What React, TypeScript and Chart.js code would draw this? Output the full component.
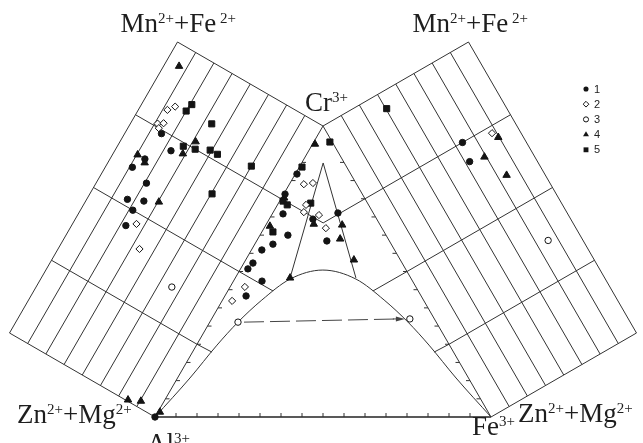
import React, { useEffect, useRef } from 'react';
import { Chart, registerables } from 'chart.js';

Chart.register(...registerables);

type Pair = [number, number];

// ---------------- data ----------------
// Left prism face:   [Cr/(Cr+Al), (Mn+Fe2+)/(Mn+Fe2++Zn+Mg)]
// Triangle:          [Cr, Fe3+] (fractions of Cr+Al+Fe3+)
// Right prism face:  [Cr/(Cr+Fe3+), (Mn+Fe2+)/(Mn+Fe2++Zn+Mg)]
const seriesNames = ['1', '2', '3', '4', '5'];

const s1Left: Pair[] = [[0.74, 0.81], [0.71, 0.71], [0.65, 0.82], [0.61, 0.86], [0.59, 0.74], [0.52, 0.79], [0.54, 0.70], [0.50, 0.73], [0.45, 0.72]];
const s1Tri: Pair[] = [[0.835, 0.005], [0.766, 0.004], [0.698, 0.032], [0.701, 0.194], [0.68, 0.13], [0.625, 0.083], [0.605, 0.209], [0.594, 0.054], [0.574, 0.031], [0.529, 0.027], [0.509, 0.022], [0.467, 0.085], [0.416, 0.063], [0.0, 0.0]];
const s1Right: Pair[] = [[0.75, 0.67], [0.69, 0.65]];

const s2Left: Pair[] = [[0.81, 0.85], [0.83, 0.82], [0.76, 0.86], [0.77, 0.83], [0.75, 0.84], [0.47, 0.67], [0.41, 0.58]];
const s2Tri: Pair[] = [[0.80, 0.043], [0.804, 0.068], [0.729, 0.085], [0.704, 0.091], [0.694, 0.141], [0.649, 0.184], [0.447, 0.044], [0.399, 0.030]];
const s2Right: Pair[] = [[0.73, 0.85]];

const s3Left: Pair[] = [[0.36, 0.30]];
const s3Tri: Pair[] = [[0.326, 0.084], [0.337, 0.590]];
const s3Right: Pair[] = [[0.37, 0.82]];

const s4Left: Pair[] = [[0.94, 0.92], [0.77, 0.61], [0.72, 0.64], [0.65, 0.87], [0.64, 0.81], [0.56, 0.62], [0.004, 0.19], [0.02, 0.12]];
const s4Tri: Pair[] = [[0.017, 0.006], [0.938, 0.007], [0.753, 0.008], [0.656, 0.014], [0.663, 0.141], [0.66, 0.227], [0.612, 0.245], [0.54, 0.322], [0.478, 0.163]];
const s4Right: Pair[] = [[0.71, 0.87], [0.68, 0.74], [0.60, 0.80]];

const s5Left: Pair[] = [[0.86, 0.74], [0.835, 0.75], [0.84, 0.58], [0.74, 0.66], [0.75, 0.59], [0.77, 0.51], [0.77, 0.46], [0.79, 0.25], [0.66, 0.37]];
const s5Tri: Pair[] = [[0.945, 0.048], [0.859, 0.008], [0.742, 0.010], [0.729, 0.029], [0.735, 0.096], [0.636, 0.033]];
const s5Right: Pair[] = [[0.95, 0.38]];

// solvus curve [Cr, Fe3+]
const solvusCr = [0, 0.134, 0.247, 0.326, 0.402, 0.474, 0.505, 0.474, 0.402, 0.326, 0.247, 0.134, 0];
const solvusFe3 = [0, 0.037, 0.061, 0.084, 0.117, 0.165, 0.247, 0.361, 0.481, 0.590, 0.692, 0.829, 1];

// interior guide lines [Cr, Fe3+]
const crossCr = [0.25, 0.5, 0.75];
const crossEndLeft: Pair[] = [[0.223, 0.058], [0.433, 0.135], [0.667, 0.167]];
const crossEndRight: Pair[] = [[0.223, 0.719], [0.433, 0.432], [0.667, 0.167]];
const innerApex: Pair = [0.873, 0.064];
const innerBase: Pair[] = [[0.478, 0.163], [0.478, 0.359]];

const faceLong = 8; // divisions across the face
const faceCross = 4; // divisions along the face
const edgeTicks = 16;

// ---------------- geometry ----------------
const H = Math.sqrt(3) / 2;
const FACE = 0.5;
type P = { x: number | null; y: number | null };
const toTri = ([cr, fe3]: Pair): P => ({ x: fe3 + 0.5 * cr, y: H * cr });
const toLeft = ([cr, f]: Pair): P => ({ x: 0.5 * cr - H * FACE * f, y: H * cr + 0.5 * FACE * f });
const toRight = ([cr, f]: Pair): P => ({ x: 1 - 0.5 * cr + H * FACE * f, y: H * cr + 0.5 * FACE * f });
const GAP: P = { x: null, y: null };

function joinSegs(list: P[][]): P[] {
  const out: P[] = [];
  list.forEach((s, i) => {
    if (i) out.push(GAP);
    out.push(...s);
  });
  return out;
}

function buildGrid(): P[] {
  const segs: P[][] = [];
  for (const face of [toLeft, toRight]) {
    for (let k = 1; k <= faceLong; k++) segs.push([face([0, k / faceLong]), face([1, k / faceLong])]);
    for (let j = 0; j <= faceCross; j++) segs.push([face([j / faceCross, 0]), face([j / faceCross, 1])]);
  }
  segs.push([toTri([0, 0]), toTri([1, 0]), toTri([0, 1])]);
  crossCr.forEach((c, i) => {
    segs.push([toTri([c, 0]), toTri(crossEndLeft[i])]);
    segs.push([toTri([c, 1 - c]), toTri(crossEndRight[i])]);
  });
  segs.push([toTri(innerBase[0]), toTri(innerApex), toTri(innerBase[1])]);
  return joinSegs(segs);
}

const styles = ['circle', 'rectRot', 'circle', 'triangle', 'rect'];
const filled = [true, false, false, true, true];
const radii = [3.2, 3.6, 3.2, 4.3, 4.3];
const INK = '#141414';
const LINE = '#333333';

function drawMarker(ctx: CanvasRenderingContext2D, style: string, x: number, y: number, r: number, fill: boolean) {
  ctx.beginPath();
  if (style === 'circle') ctx.arc(x, y, r, 0, Math.PI * 2);
  else if (style === 'rect') {
    const s = r * Math.SQRT1_2;
    ctx.rect(x - s, y - s, 2 * s, 2 * s);
  } else if (style === 'rectRot') {
    ctx.moveTo(x, y - r); ctx.lineTo(x + r, y); ctx.lineTo(x, y + r); ctx.lineTo(x - r, y); ctx.closePath();
  } else {
    ctx.moveTo(x, y - r); ctx.lineTo(x + 0.866 * r, y + 0.5 * r); ctx.lineTo(x - 0.866 * r, y + 0.5 * r); ctx.closePath();
  }
  ctx.lineWidth = 1;
  if (fill) { ctx.fillStyle = INK; ctx.fill(); }
  else { ctx.fillStyle = '#fff'; ctx.fill(); ctx.strokeStyle = INK; ctx.stroke(); }
}

function rich(ctx: CanvasRenderingContext2D, x: number, y: number, parts: [string, boolean][]) {
  let cx = x;
  ctx.fillStyle = '#1e1e1e';
  ctx.textAlign = 'left';
  ctx.textBaseline = 'alphabetic';
  for (const [t, sup] of parts) {
    ctx.font = sup ? '15px "Liberation Serif"' : '27px "Liberation Serif"';
    ctx.fillText(t, cx, sup ? y - 9 : y);
    cx += ctx.measureText(t).width;
  }
}

const decor = {
  id: 'decor',
  beforeDatasetsDraw(chart: any) {
    const ctx: CanvasRenderingContext2D = chart.ctx;
    const X = (p: P) => chart.scales.x.getPixelForValue(p.x);
    const Y = (p: P) => chart.scales.y.getPixelForValue(p.y);
    ctx.save();
    // base line Al - Fe3+
    const al = toTri([0, 0]);
    const fe = toTri([0, 1]);
    ctx.strokeStyle = '#222';
    ctx.lineWidth = 1.3;
    ctx.beginPath(); ctx.moveTo(X(al), Y(al)); ctx.lineTo(X(fe), Y(fe)); ctx.stroke();
    ctx.strokeStyle = LINE;
    ctx.lineWidth = 1;
    ctx.beginPath();
    for (let k = 1; k < edgeTicks; k++) {
      const f = k / edgeTicks;
      const b = toTri([0, f]);
      ctx.moveTo(X(b), Y(b)); ctx.lineTo(X(b), Y(b) - 4);
      const l = toTri([f, 0]);
      ctx.moveTo(X(l), Y(l)); ctx.lineTo(X(l) + 4, Y(l));
      const r = toTri([f, 1 - f]);
      ctx.moveTo(X(r), Y(r)); ctx.lineTo(X(r) - 4, Y(r));
    }
    ctx.stroke();
    // dashed arrow between the two solvus points
    const a = toTri(s3Tri[0]);
    const b = toTri(s3Tri[1]);
    const ax = X(a) + 6, ay = Y(a), bx = X(b) - 5, by = Y(b);
    ctx.strokeStyle = '#444';
    ctx.setLineDash([20, 6]);
    ctx.beginPath(); ctx.moveTo(ax, ay); ctx.lineTo(bx - 6, by); ctx.stroke();
    ctx.setLineDash([]);
    ctx.beginPath(); ctx.moveTo(bx - 12, by); ctx.lineTo(bx - 4, by); ctx.stroke();
    ctx.fillStyle = '#444';
    ctx.beginPath(); ctx.moveTo(bx, by); ctx.lineTo(bx - 9, by - 2.5); ctx.lineTo(bx - 9, by + 2.5); ctx.closePath(); ctx.fill();
    ctx.restore();
  },
  afterDraw(chart: any) {
    const ctx: CanvasRenderingContext2D = chart.ctx;
    const X = (p: P) => chart.scales.x.getPixelForValue(p.x);
    const Y = (p: P) => chart.scales.y.getPixelForValue(p.y);
    ctx.save();
    const mnfe: [string, boolean][] = [['Mn', false], ['2+', true], ['+Fe', false], [' 2+', true]];
    const znmg: [string, boolean][] = [['Zn', false], ['2+', true], ['+Mg', false], ['2+', true]];
    const tl = toLeft([1, 1]);
    const tr = toRight([1, 1]);
    const al = toTri([0, 0]);
    const fe = toTri([0, 1]);
    const cr = toTri([1, 0]);
    rich(ctx, X(tl) - 57, Y(tl) - 10, mnfe);
    rich(ctx, X(tr) - 56, Y(tr) - 10, mnfe);
    rich(ctx, X(cr) - 18, Y(cr) - 15, [['Cr', false], ['3+', true]]);
    rich(ctx, X(al) - 138, Y(al) + 6, znmg);
    rich(ctx, X(fe) + 27, Y(fe) + 5, znmg);
    rich(ctx, X(al) - 8, Y(al) + 35, [['Al', false], ['3+', true]]);
    rich(ctx, X(fe) - 19, Y(fe) + 18, [['Fe', false], ['3+', true]]);
    // legend
    const lx = chart.chartArea.right - 57;
    const ly0 = chart.chartArea.top + 89;
    seriesNames.forEach((name, i) => {
      const y = ly0 + i * 15.2;
      drawMarker(ctx, styles[i], lx, y, radii[i] * 0.8, filled[i]);
      ctx.fillStyle = '#222';
      ctx.font = '11px "Liberation Sans"';
      ctx.textAlign = 'left';
      ctx.textBaseline = 'middle';
      ctx.fillText(name, lx + 8, y + 0.5);
    });
    ctx.restore();
  },
};

export default function App() {
  const ref = useRef<HTMLCanvasElement | null>(null);
  useEffect(() => {
    if (!ref.current) return;
    const groups: [Pair[], Pair[], Pair[]][] = [
      [s1Left, s1Tri, s1Right],
      [s2Left, s2Tri, s2Right],
      [s3Left, s3Tri, s3Right],
      [s4Left, s4Tri, s4Right],
      [s5Left, s5Tri, s5Right],
    ];
    const pointSets = groups.map(([l, t, r], i) => ({
      type: 'scatter' as const,
      label: seriesNames[i],
      data: [...l.map(toLeft), ...t.map(toTri), ...r.map(toRight)],
      pointStyle: styles[i],
      pointRadius: radii[i],
      pointBackgroundColor: filled[i] ? INK : '#ffffff',
      pointBorderColor: INK,
      pointBorderWidth: 1,
      order: 0,
    }));
    const solvus = solvusCr.map((c, i) => toTri([c, solvusFe3[i]]));
    const pxW = 643, pxH = 443, unit = 336, ox = 155, oy = 417;
    const chart = new Chart(ref.current, {
      type: 'scatter',
      data: {
        datasets: [
          ...pointSets,
          {
            type: 'line',
            label: 'grid',
            data: buildGrid(),
            borderColor: LINE,
            borderWidth: 1,
            pointRadius: 0,
            spanGaps: false,
            tension: 0,
            order: 5,
          },
          {
            type: 'line',
            label: 'solvus',
            data: solvus,
            borderColor: LINE,
            borderWidth: 1,
            pointRadius: 0,
            cubicInterpolationMode: 'monotone',
            order: 5,
          },
        ] as any,
      },
      options: {
        responsive: false,
        animation: false,
        events: [],
        layout: { padding: 0, autoPadding: false },
        plugins: { legend: { display: false }, tooltip: { enabled: false } },
        scales: {
          x: { type: 'linear', display: false, min: -ox / unit, max: (pxW - ox) / unit },
          y: { type: 'linear', display: false, min: -(pxH - oy) / unit, max: oy / unit },
        },
      } as any,
      plugins: [decor],
    });
    return () => chart.destroy();
  }, []);
  return (
    <div style={{ position: 'absolute', left: 0, top: 0, width: 643, height: 443, background: '#fff' }}>
      <canvas ref={ref} width={643} height={443} style={{ display: 'block' }} />
    </div>
  );
}
